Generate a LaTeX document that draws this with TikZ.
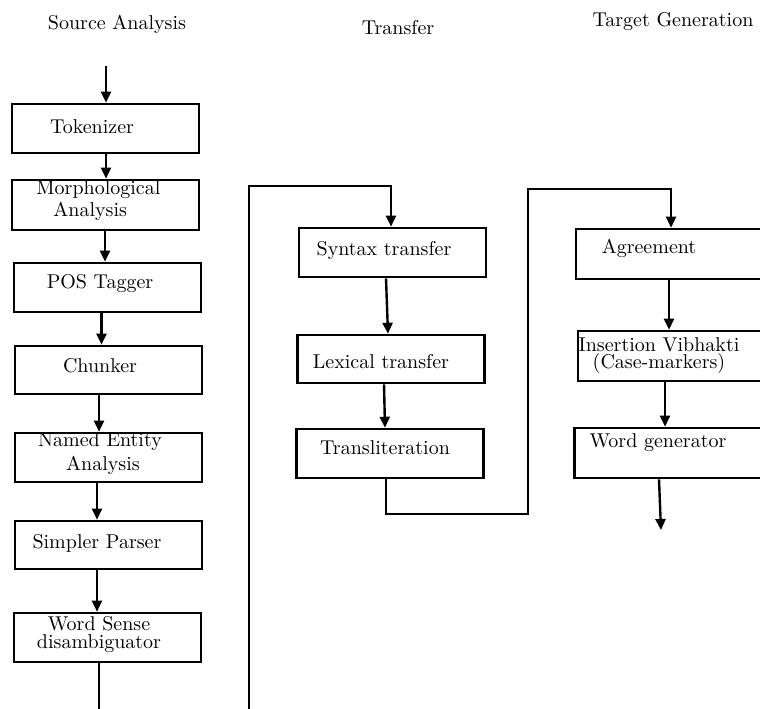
\documentclass[tikz,border=0pt]{standalone}
\usetikzlibrary{arrows.meta,calc}
\begin{document}
\begin{tikzpicture}[x=0.5pt,y=-0.5pt,
  box/.style={draw,line width=1.3pt,minimum width=93.5pt,minimum height=24.5pt,inner sep=0pt},
  txt/.style={inner sep=0pt,align=center,font=\normalsize},
  arr/.style={line width=1.2pt,-{Triangle[length=5.5pt,width=5pt]}},
  ln/.style={line width=1.2pt}]
\useasboundingbox (0,0) rectangle (760,708);
\clip (0,0) rectangle (760,708);
% titles
\node[txt] (h1) at (117,24) {Source Analysis};
\node[txt] (h2) at (398,28) {Transfer};
\node[txt] (h3) at (673,22) {Target Generation};
% source analysis boxes
\node[box] (tok) at (105.5,128.5) {};
\node[box,minimum height=25pt] (morph) at (105.5,205) {};
\node[box] (pos) at (107.5,287.5) {};
\node[box,minimum height=24pt] (chunk) at (108.5,370) {};
\node[box] (ne) at (108.5,457.5) {};
\node[box,minimum height=24pt] (sp) at (108.5,545) {};
\node[box] (wsd) at (107.5,637.5) {};
% transfer boxes
\node[box] (syn) at (392.5,252.5) {};
\node[box,minimum height=24pt] (lex) at (391,359) {};
\node[box] (trans) at (390,453.5) {};
% target boxes
\node[box,minimum height=25pt] (agr) at (669.5,254) {};
\node[box,minimum height=25pt] (ins) at (671.5,356) {};
\node[box,minimum height=25pt] (wg) at (668,453) {};
% texts
\node[txt] (tTok) at (92,127) {Tokenizer};
\node[txt,align=left,anchor=west] (tMorph) at (36,201) {Morphological\\[-1pt]\hspace*{8.5pt}Analysis};
\node[txt] (tPos) at (100,283) {POS Tagger};
\node[txt] (tChunk) at (100,366) {Chunker};
\node[txt] (tNE) at (100,454) {Named Entity\\\hspace*{3pt}Analysis};
\node[txt] (tSP) at (97,543) {Simpler Parser};
\node[txt] (tWSD) at (99,634) {Word Sense\\[-3pt]disambiguator};
\node[txt] (tSyn) at (384,250) {Syntax transfer};
\node[txt] (tLex) at (381,362) {Lexical transfer};
\node[txt] (tTrans) at (385,448) {Transliteration};
\node[txt] (tAgr) at (649,248) {Agreement};
\node[txt] (tIns) at (659,356) {Insertion Vibhakti\\[-3.5pt](Case-markers)};
\node[txt] (tWG) at (658,443) {Word generator};
% coordinates
\coordinate (cin) at (106,66);
\coordinate (cwsd) at (99,716);
\coordinate (b1) at (249,716);
\coordinate (t1) at (391,186);
\coordinate (m1) at (528,514);
\coordinate (t2) at (671,189);
\coordinate (cout) at (661,530);
% connectors
\draw[arr] (cin) -- ($(tok.north)+(0.5,0)$);
\draw[arr] ($(tok.south)+(0.5,0)$) -- ($(morph.north)+(0.5,0)$);
\draw[arr] ($(morph.south)+(-0.5,0)$) -- ($(pos.north)+(-2.5,0)$);
\draw[arr] ($(pos.south)+(-6,0)$) -- ($(chunk.north)+(-7,0)$);
\draw[arr] ($(chunk.south)+(-9.5,0)$) -- ($(ne.north)+(-9.5,0)$);
\draw[arr] ($(ne.south)+(-11.5,0)$) -- ($(sp.north)+(-11.5,0)$);
\draw[arr] ($(sp.south)+(-11.5,0)$) -- ($(wsd.north)+(-10.5,0)$);
\draw[ln] ($(wsd.south)+(-8.5,0)$) -- (cwsd);
\draw[arr] (b1) |- (t1) -- (t1 |- syn.north);
\draw[arr] ($(syn.south)+(-6.5,0)$) -- ($(lex.north)+(-3,0)$);
\draw[arr] ($(lex.south)+(-7,0)$) -- ($(trans.north)+(-5,0)$);
\draw[arr] ($(trans.south)+(-4,0)$) |- (m1) |- (t2) -- (t2 |- agr.north);
\draw[arr] ($(agr.south)+(-0.5,0)$) -- ($(ins.north)+(-2.5,0)$);
\draw[arr] ($(ins.south)+(-6.5,0)$) -- ($(wg.north)+(-3,0)$);
\draw[arr] ($(wg.south)+(-9,0)$) -- (cout);
\end{tikzpicture}
\end{document}
